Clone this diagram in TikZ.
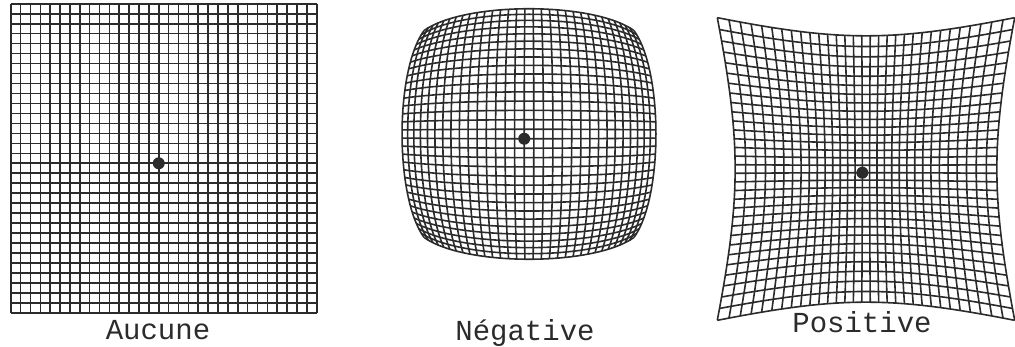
\documentclass[tikz,border=0pt]{standalone}
\usepackage{fontspec}
\setmonofont{Liberation Mono}
\definecolor{ink}{HTML}{2B2B2B}
\tikzset{
  gridline/.style={line width=1.6pt, draw=ink, line join=round},
  spot/.style={circle, fill=ink, inner sep=0pt, minimum size=12pt},
  caption/.style={font=\fontsize{29}{29}\selectfont\ttfamily, text=ink, anchor=base},
}
% radial distortion r' = s r (1 + k r^2) on a grid of 31 x 31 cells
\def\ncell{31}
\newcommand{\lensgrid}[5]{% centre x, centre y, scale x, scale y, k
  \foreach \i in {0,...,\ncell} {
    \pgfmathsetmacro{\gu}{2*\i/\ncell-1}
    \draw[gridline] plot[domain=-1:1, samples=41]
      ({#1+(#3)*\gu*(1+(#5)*(\gu*\gu+\x*\x))}, {#2+(#4)*\x*(1+(#5)*(\gu*\gu+\x*\x))});
    \draw[gridline] plot[domain=-1:1, samples=41]
      ({#1+(#3)*\x*(1+(#5)*(\gu*\gu+\x*\x))}, {#2+(#4)*\gu*(1+(#5)*(\gu*\gu+\x*\x))});
  }
}
\newcommand{\lensspot}[6]{% name, centre x, centre y, scale x, scale y, k
  \node[spot] (#1) at ({#2-(#4)/\ncell*(1+(#6)*2/(\ncell*\ncell))},
                       {#3+(#5)/\ncell*(1+(#6)*2/(\ncell*\ncell))}) {};
}

\begin{document}
\begin{tikzpicture}[x=1pt, y=-1pt]
\useasboundingbox (0,0) rectangle (1015,347);

%% ---- no distortion ----
\lensgrid{163.7}{158.3}{153}{154.5}{0}
\lensspot{dotA}{163.7}{158.3}{153}{154.5}{0}
\node[caption] (capA) at (158,340) {Aucune};

%% ---- barrel ----
\lensgrid{529}{134}{149}{147}{-0.148}
\lensspot{dotN}{529}{134}{149}{147}{-0.148}
\node[caption] (capN) at (525,341) {Négative};

%% ---- pincushion ----
\lensgrid{866}{169}{113}{115}{0.158}
\lensspot{dotP}{866}{169}{113}{115}{0.158}
\node[caption] (capP) at (862,333) {Positive};

\end{tikzpicture}
\end{document}
